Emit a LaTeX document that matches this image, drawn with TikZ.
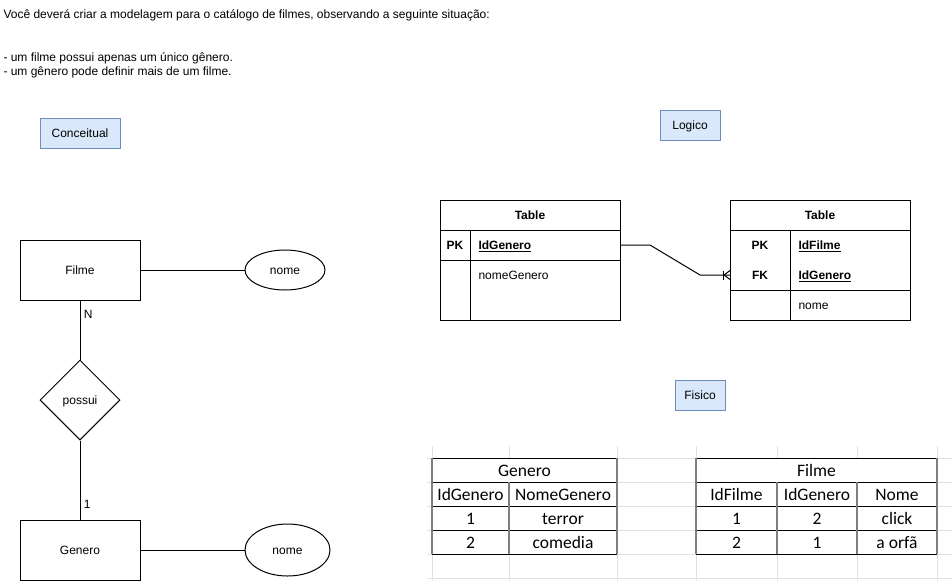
\documentclass[tikz,border=0pt]{standalone}
\usepackage{fontspec}
\setmainfont{Liberation Sans}
\newfontfamily\planilha{Carlito}
\usetikzlibrary{calc,shapes.geometric}
\definecolor{notafundo}{HTML}{DAE8FC}
\definecolor{notaborda}{HTML}{6C8EBF}
\definecolor{gradecinza}{HTML}{E1E1E1}
\definecolor{bordacelula}{HTML}{7F7F7F}
\tikzset{
	entidade/.style={draw, minimum width=120pt, minimum height=60pt},
	atributo/.style={draw, ellipse, minimum width=80pt, minimum height=40pt},
	relacao/.style={draw, diamond, minimum width=80pt, minimum height=80pt, inner sep=0pt},
	etiqueta/.style={draw=notaborda, fill=notafundo, minimum height=30pt},
	campo/.style={anchor=west, inner sep=0pt},
	celula/.style={anchor=base, inner sep=0pt, font=\planilha\fontsize{17.5}{20}\selectfont},
}

\begin{document}
\begin{tikzpicture}[x=1pt, y=-1pt, line width=1pt, font=\fontsize{12}{14}\selectfont,
		every node/.append style={text height=10.2pt, text depth=1.8pt}]
		%%%%% START %%%%%
		\useasboundingbox (0,0) rectangle (952,581);
		
		\node[anchor=west, inner sep=0pt] (enunciado) at (3,14) {Você deverá criar a modelagem para o catálogo de filmes, observando a seguinte situação:};
		\node[anchor=west, inner sep=0pt] (regra1) at (3,57.5) {- um filme possui apenas um único gênero.};
		\node[anchor=west, inner sep=0pt] (regra2) at (3,71.5) {- um gênero pode definir mais de um filme.};
		
		\node[etiqueta, minimum width=80pt] (conceitual) at (80,133) {Conceitual};
		\node[etiqueta, minimum width=60pt] (logico) at (690,125) {Logico};
		\node[etiqueta, minimum width=50pt] (fisico) at (700,395) {Fisico};
		
		% conceitual
		\node[entidade] (filme) at (80,270) {Filme};
		\node[atributo] (nomeFilme) at (285,270) {nome};
		\node[relacao] (possui) at (80,400) {possui};
		\node[entidade] (genero) at (80,550) {Genero};
		\node[atributo, minimum width=85pt, minimum height=52pt] (nomeGenero) at (287.5,550) {nome};
		
		\draw (filme) -- (nomeFilme);
		\draw (genero) -- (nomeGenero);
		\draw (filme) -- node[pos=0.23, right] (cardN) {N} (possui);
		\draw (possui) -- node[pos=0.81, right] (card1) {1} (genero);
		
		% logico
		\draw (440,200) rectangle (620,320);
		\draw (440,230) -- (620,230);
		\draw (440,260) -- (620,260);
		\draw (470,230) -- (470,320);
		\node (tabGenero) at (530,215) {\textbf{Table}};
		\node (pkGenero) at (455,245) {\textbf{PK}};
		\node[campo] (idGenero) at (478,245) {\textbf{\underline{IdGenero}}};
		\node[campo] (nomeGen) at (478,275) {nomeGenero};
		
		\draw (730,200) rectangle (910,320);
		\draw (730,230) -- (910,230);
		\draw (730,290) -- (910,290);
		\draw (790,230) -- (790,320);
		\node (tabFilme) at (820,215) {\textbf{Table}};
		\node (pkFilme) at (760,245) {\textbf{PK}};
		\node (fkFilme) at (760,275) {\textbf{FK}};
		\node[campo] (idFilme) at (798,245) {\textbf{\underline{IdFilme}}};
		\node[campo] (idGeneroFk) at (798,275) {\textbf{\underline{IdGenero}}};
		\node[campo] (nomeFil) at (798,305) {nome};
		
		\coordinate (pkSaida) at (620,245);
		\coordinate (fkEntrada) at (730,275);
		\draw (pkSaida) -- ++(30,0) -- ++(50,30) -- (fkEntrada);
		\draw ($(fkEntrada)+(-7,-4.5)$) -- ++(0,9);
		\draw ($(fkEntrada)+(0,-4.5)$) -- ($(fkEntrada)+(-6,0)$) -- ($(fkEntrada)+(0,4.5)$);
		
		% fisico
		\foreach \gx in {432,509,617,696,777,857,937}
			\draw[gradecinza] (\gx,446) -- (\gx,581);
		\foreach \gy in {458,482,506,530,554,578}
			\draw[gradecinza] (427,\gy) -- (952,\gy);
		
		\fill[white] (432,458) rectangle (617,554);
		\fill[white] (696,458) rectangle (937,554);
		\foreach \gy in {458,482,506,530,554} {
			\draw (432,\gy) -- (617,\gy);
			\draw (696,\gy) -- (937,\gy);
		}
		\draw[bordacelula, line width=1.5pt] (432,458) -- (432,554) (617,458) -- (617,554) (509,482) -- (509,554);
		\draw[bordacelula, line width=1.5pt] (696,458) -- (696,554) (937,458) -- (937,554) (777,482) -- (777,554) (857,482) -- (857,554);
		
		\node[celula] (gTitulo) at (524.5,476) {Genero};
		\node[celula] (gCol1) at (470.5,500) {IdGenero};
		\node[celula] (gCol2) at (563,500) {NomeGenero};
		\node[celula] (g11) at (470.5,524) {1};
		\node[celula] (g12) at (563,524) {terror};
		\node[celula] (g21) at (470.5,548) {2};
		\node[celula] (g22) at (563,548) {comedia};
		
		\node[celula] (fTitulo) at (816.5,476) {Filme};
		\node[celula] (fCol1) at (736.5,500) {IdFilme};
		\node[celula] (fCol2) at (817,500) {IdGenero};
		\node[celula] (fCol3) at (897,500) {Nome};
		\node[celula] (f11) at (736.5,524) {1};
		\node[celula] (f12) at (817,524) {2};
		\node[celula] (f13) at (897,524) {click};
		\node[celula] (f21) at (736.5,548) {2};
		\node[celula] (f22) at (817,548) {1};
		\node[celula] (f23) at (897,548) {a orfã};
		
		%%%%% END %%%%%
\end{tikzpicture}
\end{document}
